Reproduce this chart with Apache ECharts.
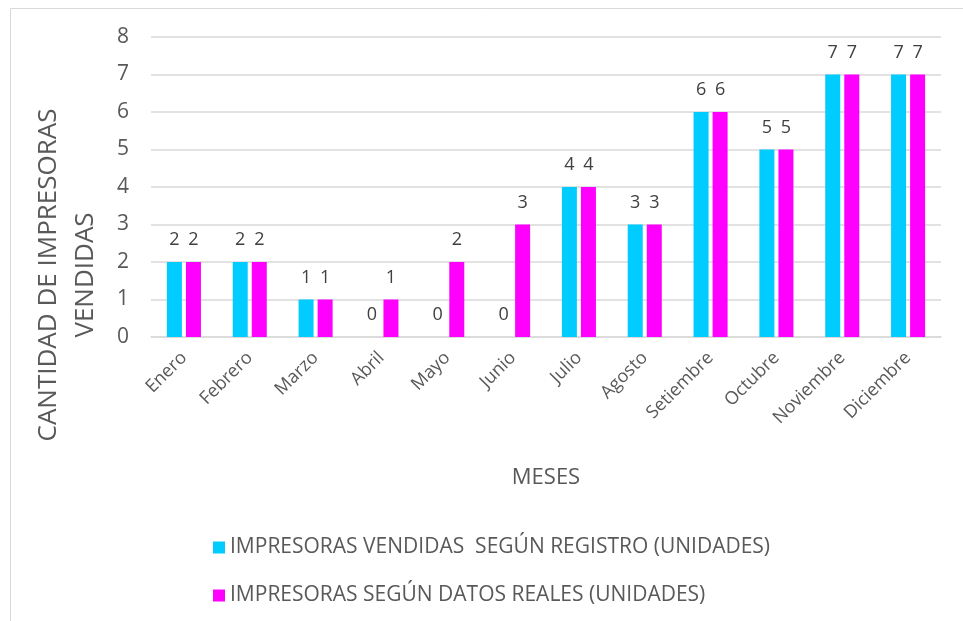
<!DOCTYPE html>
<html>
<head>
<meta charset="utf-8">
<script src="https://cdn.jsdelivr.net/npm/echarts@6/dist/echarts.min.js"></script>
<style>
  html, body { margin: 0; padding: 0; background: #fff; }
  #chart-container { width: 963px; height: 621px; }
</style>
</head>
<body>
<div id="chart-container"></div>
<script>
// months and units
var meses = ['Enero', 'Febrero', 'Marzo', 'Abril', 'Mayo', 'Junio', 'Julio', 'Agosto', 'Setiembre', 'Octubre', 'Noviembre', 'Diciembre'];
var segunRegistro = [2, 2, 1, 0, 0, 0, 4, 3, 6, 5, 7, 7];
var datosReales = [2, 2, 1, 1, 2, 3, 4, 3, 6, 5, 7, 7];
var nombreRegistro = 'IMPRESORAS VENDIDAS  SEGÚN REGISTRO (UNIDADES)';
var nombreReales = 'IMPRESORAS SEGÚN DATOS REALES (UNIDADES)';

var fuente = '"Open Sans", sans-serif';

var dom = document.getElementById('chart-container');
var myChart = echarts.init(dom, null, { renderer: 'canvas' });

var label = {
  show: true,
  position: 'top',
  distance: 13,
  fontSize: 18,
  fontFamily: fuente,
  color: '#404040'
};

var option = {
  animation: false,
  backgroundColor: '#fff',
  graphic: [{
    type: 'rect',
    shape: { x: 10.5, y: 8.5, width: 1000, height: 700 },
    style: { fill: 'none', stroke: '#d9d9d9', lineWidth: 1 }
  }, {
    type: 'text',
    x: 67,
    y: 275,
    rotation: Math.PI / 2,
    style: {
      text: 'CANTIDAD DE IMPRESORAS\nVENDIDAS',
      fontSize: 26,
      fontFamily: fuente,
      fill: '#595959',
      align: 'center',
      verticalAlign: 'middle',
      lineHeight: 37
    }
  }],
  legend: {
    orient: 'vertical',
    left: 213,
    top: 537,
    padding: 0,
    itemWidth: 12,
    itemHeight: 12,
    itemGap: 27,
    icon: 'rect',
    textStyle: { fontSize: 21, fontFamily: fuente, color: '#595959' },
    data: [nombreRegistro, nombreReales]
  },
  grid: { left: 151, right: 22, top: 37, bottom: 284 },
  xAxis: {
    type: 'category',
    data: meses,
    name: 'MESES',
    nameLocation: 'middle',
    nameGap: 130,
    nameTextStyle: { fontSize: 22, fontFamily: fuente, color: '#595959' },
    axisLine: { lineStyle: { color: '#d9d9d9', width: 1.5 } },
    axisTick: { show: false },
    axisLabel: {
      rotate: 45,
      interval: 0,
      margin: 18,
      fontSize: 18,
      fontFamily: fuente,
      color: '#595959'
    }
  },
  yAxis: {
    type: 'value',
    min: 0,
    max: 8,
    interval: 1,
    axisLine: { show: false },
    axisTick: { show: false },
    splitLine: { lineStyle: { color: '#d9d9d9', width: 1.5 } },
    axisLabel: {
      margin: 22,
      fontSize: 21,
      fontFamily: fuente,
      color: '#595959'
    }
  },
  series: [{
    name: nombreRegistro,
    type: 'bar',
    data: segunRegistro,
    barWidth: 15,
    barGap: '27%',
    itemStyle: { color: '#00ccff' },
    label: label
  }, {
    name: nombreReales,
    type: 'bar',
    data: datosReales,
    barWidth: 15,
    itemStyle: { color: '#ff00ff' },
    label: label
  }]
};

myChart.setOption(option);
window.addEventListener('resize', myChart.resize);
</script>
</body>
</html>
